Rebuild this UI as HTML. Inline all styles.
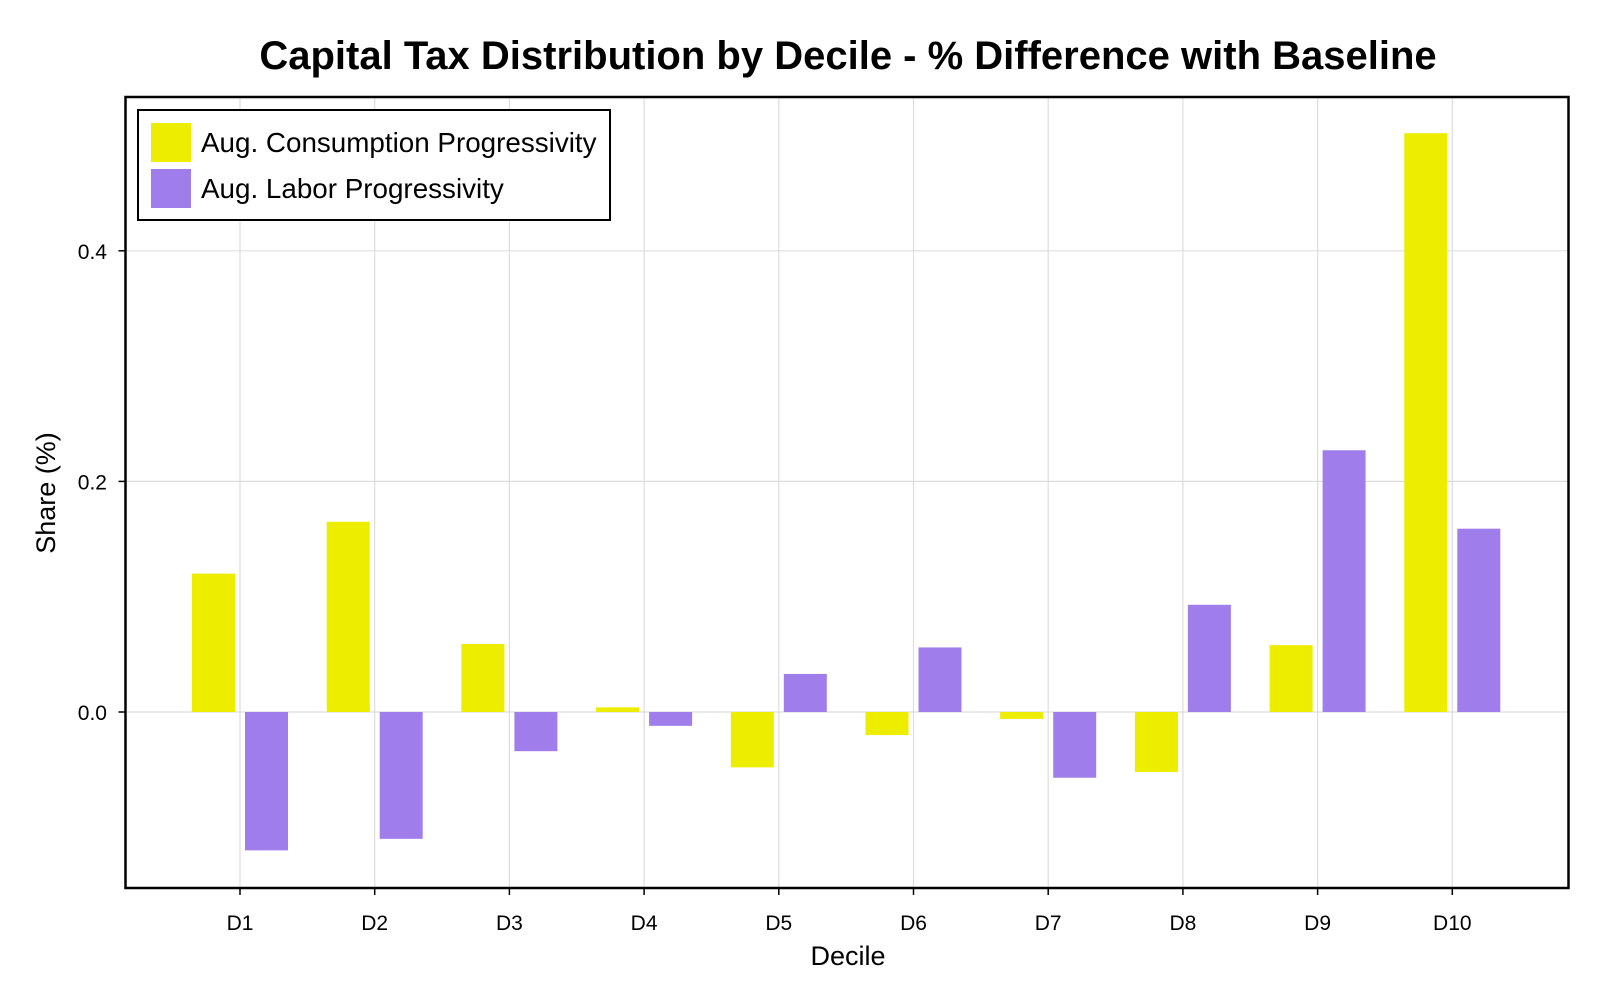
<!DOCTYPE html>
<html><head><meta charset="utf-8"><style>
body{margin:0;background:#fff;}
svg{display:block;font-family:"Liberation Sans",sans-serif;}
</style></head><body>
<svg id="chart" width="1600" height="1000">
<text x="848" y="69" text-anchor="middle" font-size="40" font-weight="bold">Capital Tax Distribution by Decile - % Difference with Baseline</text>
<g id="grid"></g>
<g id="bars"></g>
<rect x="125.5" y="97" width="1443" height="791" fill="none" stroke="#000" stroke-width="2.5"/>
<g id="ticks"></g>
<text x="848" y="965" text-anchor="middle" font-size="27">Decile</text>
<text transform="translate(55,493) rotate(-90)" text-anchor="middle" font-size="27">Share (%)</text>
<g>
<rect x="138" y="110" width="472" height="110" fill="#fff" stroke="#000" stroke-width="2"/>
<rect x="151" y="123" width="40" height="39" fill="#eded00"/>
<text x="201" y="152" font-size="27.8">Aug. Consumption Progressivity</text>
<rect x="151" y="169" width="40" height="39" fill="#9f7eec"/>
<text x="201" y="198" font-size="27.8">Aug. Labor Progressivity</text>
</g>
</svg>
<script>
const categories=["D1","D2","D3","D4","D5","D6","D7","D8","D9","D10"];
const consumption=[0.120,0.165,0.059,0.004,-0.048,-0.020,-0.006,-0.052,0.058,0.502];
const labor=[-0.120,-0.110,-0.034,-0.012,0.033,0.056,-0.057,0.093,0.227,0.159];
const yTicks=[0.0,0.2,0.4];
const yTickLabels=["0.0","0.2","0.4"];
const NS="http://www.w3.org/2000/svg";
const xScale=i=>240+i*134.7;
const yScale=v=>712-v*1153;
function mk(tag,attrs,parent){const e=document.createElementNS(NS,tag);for(const k in attrs)e.setAttribute(k,attrs[k]);document.getElementById(parent).appendChild(e);return e;}
categories.forEach((c,i)=>{
 let g=mk('line',{x1:xScale(i),x2:xScale(i),y1:97,y2:888,stroke:'#ddd','stroke-width':1.2},'grid');
 
 
 let t=mk('line',{x1:xScale(i),x2:xScale(i),y1:888,y2:895,stroke:'#000','stroke-width':1.5},'ticks');
 
 
 let l=mk('text',{x:xScale(i),y:930,'text-anchor':'middle','font-size':21},'ticks');
 l.textContent=c;
 
 
});
yTicks.forEach((v,i)=>{
 let g=mk('line',{x1:125.5,x2:1568.5,y1:yScale(v),y2:yScale(v),stroke:'#ddd','stroke-width':1.2},'grid');
 
 
 let t=mk('line',{x1:118.5,x2:125.5,y1:yScale(v),y2:yScale(v),stroke:'#000','stroke-width':1.5},'ticks');
 
 
 let l=mk('text',{x:107,y:yScale(v)+8,'text-anchor':'end','font-size':21},'ticks');
 l.textContent=yTickLabels[i];
 
 
});
function bar(v,cx,color,name){
 const y0=yScale(0),y1=yScale(v);
 const r=mk('rect',{x:cx-21.5,y:Math.min(y0,y1),width:43,height:Math.abs(y1-y0),fill:color},'bars');
 
 
}
categories.forEach((c,i)=>{
 bar(consumption[i],xScale(i)-26.5,'#eded00','bar-consumption-'+c.toLowerCase());
 bar(labor[i],xScale(i)+26.5,'#9f7eec','bar-labor-'+c.toLowerCase());
});
</script>
</body></html>
